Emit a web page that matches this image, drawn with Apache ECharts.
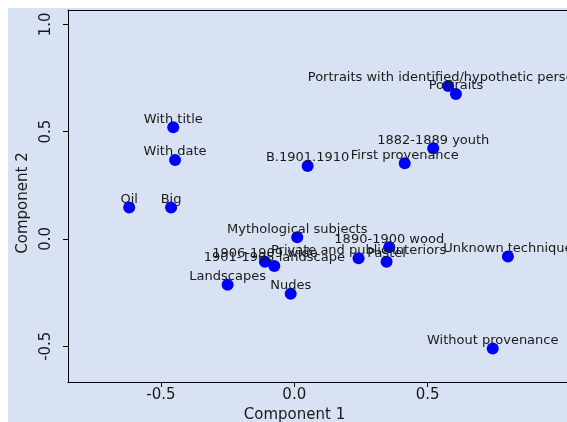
<!DOCTYPE html>
<html><head><meta charset="utf-8">
<script src="https://cdn.jsdelivr.net/npm/echarts@6/dist/echarts.min.js"></script>
<style>html,body{margin:0;padding:0;background:#fff;}#c{position:absolute;left:8px;top:8px;width:559px;height:414px;}</style>
</head><body><div id="c"></div>
<script>
const labels = ["With title","With date","Oil","Big","B.1901.1910","First provenance","1882-1889 youth",
  "Portraits with identified/hypothetic persons","Portraits","Mythological subjects","1906-1909 wide",
  "1901-1905 landscape","Private and public interiors","Pastel","1890-1900 wood","Landscapes","Nudes",
  "Unknown technique","Without provenance"];
const xs = [-0.454,-0.447,-0.619,-0.462,0.050,0.414,0.521,0.577,0.606,0.011,-0.110,-0.075,0.241,0.346,0.356,-0.250,-0.0135,0.801,0.744];
const ys = [0.520,0.368,0.146,0.146,0.340,0.352,0.422,0.712,0.675,0.008,-0.106,-0.126,-0.090,-0.106,-0.039,-0.214,-0.256,-0.082,-0.511];
const xTicks = [-0.5, 0, 0.5];
const yTicks = [-0.5, 0, 0.5, 1.0];
const xRange = [-0.8485, 1.0225];
const yRange = [-0.6667, 1.0666];

const FONT = 'DejaVu Sans';
const TXT = '#1a1a1a';
const data = xs.map((x, i) => ({ value: [x, ys[i]], name: labels[i] }));
const chart = echarts.init(document.getElementById('c'));
chart.setOption({
  backgroundColor: '#d9e2f2',
  animation: false,
  grid: { left: 60, top: 2, bottom: 40, right: 0, outerBoundsMode: 'none', containLabel: false },
  xAxis: [{
    type: 'value', min: xRange[0], max: xRange[1], position: 'bottom',
    name: 'Component 1', nameLocation: 'middle', nameGap: 24,
    nameTextStyle: { fontFamily: FONT, fontSize: 15, color: TXT, padding: [0, 46, 0, 0] },
    axisLine: { show: true, onZero: false, lineStyle: { color: '#000', width: 1 } },
    axisTick: { show: true, length: 5, customValues: xTicks, lineStyle: { color: '#000' } },
    axisLabel: { customValues: xTicks, fontFamily: FONT, fontSize: 15, color: TXT, margin: 6,
      formatter: v => v.toFixed(1) },
    splitLine: { show: false }
  }, {
    type: 'value', min: xRange[0], max: xRange[1], position: 'top',
    axisLine: { show: true, onZero: false, lineStyle: { color: '#000', width: 1 } },
    axisTick: { show: false }, axisLabel: { show: false }, splitLine: { show: false }
  }],
  yAxis: {
    type: 'value', min: yRange[0], max: yRange[1],
    name: 'Component 2', nameLocation: 'middle', nameGap: 36, nameRotate: 90,
    nameTextStyle: { fontFamily: FONT, fontSize: 15, color: TXT, padding: [0, 14, 0, 0] },
    axisLine: { show: true, onZero: false, lineStyle: { color: '#000', width: 1 } },
    axisTick: { show: true, length: 5, customValues: yTicks, lineStyle: { color: '#000' } },
    axisLabel: { customValues: yTicks, rotate: 90, fontFamily: FONT, fontSize: 15, color: TXT, margin: 14,
      formatter: v => v.toFixed(1) },
    splitLine: { show: false }
  },
  series: [{
    type: 'scatter', xAxisIndex: 0, data: data, symbol: 'circle', symbolSize: 12,
    itemStyle: { color: '#0000ff', opacity: 1 },
    clip: false,
    label: { show: true, position: 'inside', offset: [0, -8], formatter: p => p.name,
      fontFamily: FONT, fontSize: 13, color: TXT }
  }]
});
</script></body></html>
